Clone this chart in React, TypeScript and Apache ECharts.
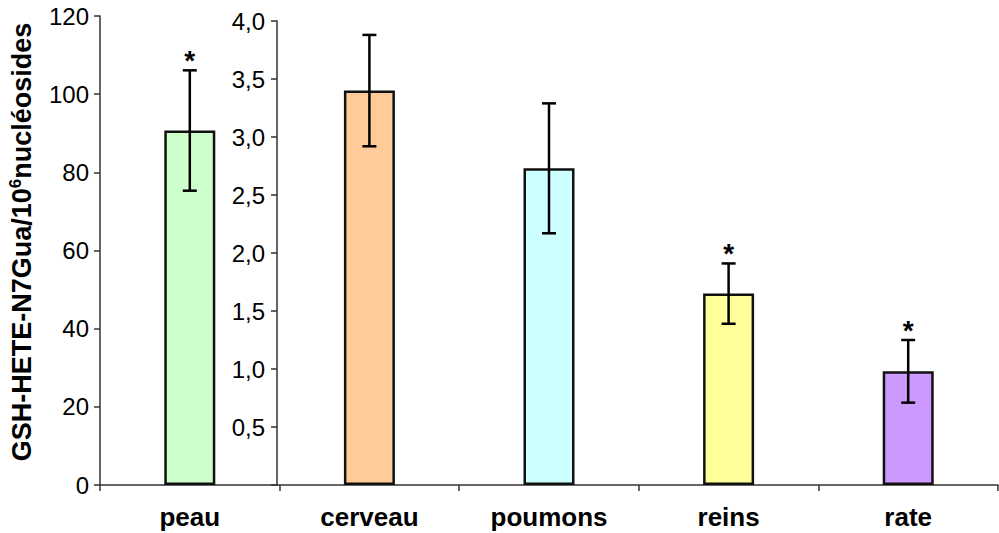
import React, { useEffect, useRef } from "react";
import * as echarts from "echarts";

const categories = ["peau", "cerveau", "poumons", "reins", "rate"];
const values = [90.7, 3.4, 2.73, 1.65, 0.98];
const errors = [15.4, 0.48, 0.56, 0.26, 0.27];
const axisOf = [0, 1, 1, 1, 1]; // 0 = left axis (0-120), 1 = inner axis (0-4,0)
const significant = [1, 0, 0, 1, 1];
const colors = ["#CCFFCC", "#FFCC99", "#CCFFFF", "#FFFF99", "#CC99FF"];
const leftTicks = { min: 0, max: 120, interval: 20 };
const innerTicks = { min: 0, max: 4, interval: 0.5 };

const FONT = "'Liberation Sans', Arial, sans-serif";

export default function App() {
  const ref = useRef<HTMLDivElement>(null);
  useEffect(() => {
    if (!ref.current) return;
    const chart = echarts.init(ref.current, null, { renderer: "svg" });

    const barData = (ax: number) =>
      values.map((v, i) =>
        axisOf[i] === ax
          ? { value: v, itemStyle: { color: colors[i] } }
          : { value: null }
      );
    const errData = (ax: number) =>
      values
        .map((v, i) => [i, v - errors[i], v + errors[i], significant[i], axisOf[i]])
        .filter((d) => d[4] === ax);

    const renderErr = (params: any, api: any) => {
      const x = api.value(0);
      const lo = api.coord([x, api.value(1)]);
      const hi = api.coord([x, api.value(2)]);
      const sig = api.value(3);
      const cap = 7;
      const st = { stroke: "#000", lineWidth: 2.5 };
      const children: any[] = [
        { type: "line", shape: { x1: hi[0], y1: hi[1], x2: lo[0], y2: lo[1] }, style: st },
        { type: "line", shape: { x1: hi[0] - cap, y1: hi[1], x2: hi[0] + cap, y2: hi[1] }, style: st },
        { type: "line", shape: { x1: lo[0] - cap, y1: lo[1], x2: lo[0] + cap, y2: lo[1] }, style: st },
      ];
      if (sig) {
        children.push({
          type: "text",
          x: hi[0],
          y: hi[1] - 10,
          style: {
            text: "*",
            fontSize: 28,
            fontWeight: "bold",
            fontFamily: FONT,
            fill: "#000",
            align: "center",
            verticalAlign: "middle",
          },
        });
      }
      return { type: "group", children };
    };

    const axisLine = { show: true, lineStyle: { color: "#333", width: 1.5 } };

    chart.setOption({
      animation: false,
      backgroundColor: "#fff",
      grid: [
        { left: 100, right: 1, top: 16, bottom: 48 },
        { left: 100, right: 1, top: 21, bottom: 48 },
      ],
      xAxis: [
        {
          type: "category",
          gridIndex: 0,
          data: categories,
          axisLine,
          axisTick: { show: true, length: 6, lineStyle: { color: "#333", width: 1.5 } },
          axisLabel: {
            color: "#000",
            fontSize: 26,
            fontWeight: "bold",
            fontFamily: FONT,
            margin: 19,
          },
        },
        { type: "category", gridIndex: 1, data: categories, show: false },
      ],
      yAxis: [
        {
          type: "value",
          gridIndex: 0,
          min: leftTicks.min,
          max: leftTicks.max,
          interval: leftTicks.interval,
          splitLine: { show: false },
          axisLine,
          axisTick: { show: true, length: 6, lineStyle: { color: "#333", width: 1.5 } },
          axisLabel: { color: "#000", fontSize: 24, fontFamily: FONT, margin: 11 },
        },
        {
          type: "value",
          gridIndex: 1,
          position: "left",
          offset: -177,
          min: innerTicks.min,
          max: innerTicks.max,
          interval: innerTicks.interval,
          splitLine: { show: false },
          axisLine,
          axisTick: { show: true, length: 6, lineStyle: { color: "#333", width: 1.5 } },
          axisLabel: {
            color: "#000",
            fontSize: 24,
            fontFamily: FONT,
            margin: 12,
            formatter: (v: number) => (v === 0 ? "" : v.toFixed(1).replace(".", ",")),
          },
        },
      ],
      graphic: [
        {
          type: "text",
          x: 22,
          y: 242,
          rotation: Math.PI / 2,
          style: {
            text: "{a|GSH-HETE-N7Gua/10}{s|6}{a|nucléosides}",
            align: "center",
            verticalAlign: "middle",
            fill: "#000",
            rich: {
              a: { fontSize: 27, fontWeight: "bold", fontFamily: FONT, lineHeight: 30, fill: "#000" },
              s: {
                fontSize: 17,
                fontWeight: "bold",
                fontFamily: FONT,
                lineHeight: 17,
                verticalAlign: "top",
                fill: "#000",
              },
            },
          },
        },
      ],
      series: [
        {
          type: "bar",
          xAxisIndex: 0,
          yAxisIndex: 0,
          barWidth: 51,
          data: barData(0),
          itemStyle: { borderColor: "#111", borderWidth: 2.5 },
        },
        {
          type: "bar",
          xAxisIndex: 1,
          yAxisIndex: 1,
          barWidth: 51,
          data: barData(1),
          itemStyle: { borderColor: "#111", borderWidth: 2.5 },
        },
        {
          type: "custom",
          xAxisIndex: 0,
          yAxisIndex: 0,
          renderItem: renderErr,
          data: errData(0),
          z: 5,
        },
        {
          type: "custom",
          xAxisIndex: 1,
          yAxisIndex: 1,
          renderItem: renderErr,
          data: errData(1),
          z: 5,
        },
      ],
    });
    return () => chart.dispose();
  }, []);

  return (
    <div
      ref={ref}
      style={{ position: "fixed", left: 0, top: 0, width: 999, height: 533, background: "#fff" }}
    />
  );
}
